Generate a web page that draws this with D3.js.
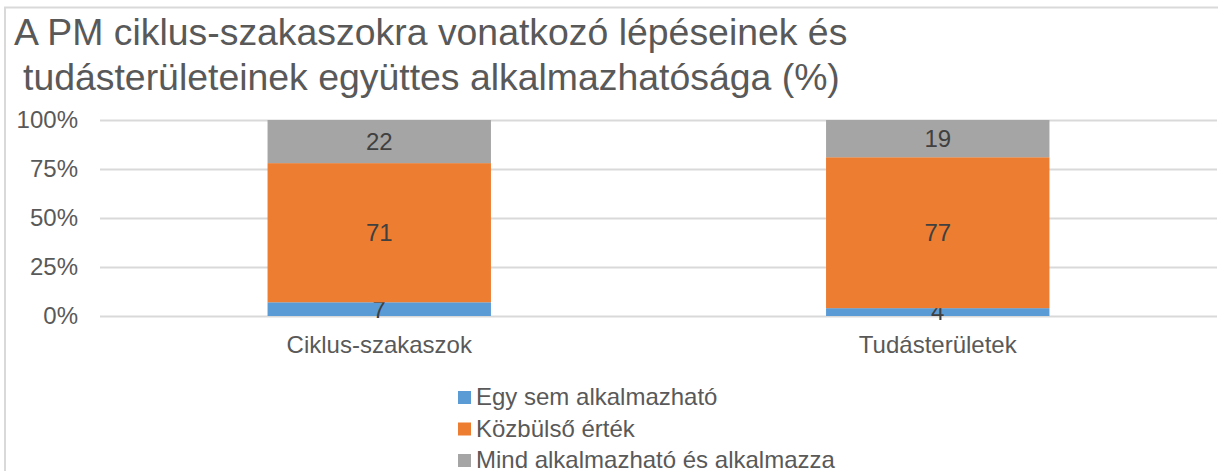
<!DOCTYPE html>
<html>
<head>
<meta charset="utf-8">
<script src="https://cdn.jsdelivr.net/npm/d3@7"></script>
<style>
  body { margin: 0; background: #fff; }
  svg { display: block; font-family: "Liberation Sans", Arial, sans-serif; }
</style>
</head>
<body>
<div id="chart"></div>
<script>
// ---- data ----
const categories = ["Ciklus-szakaszok", "Tudásterületek"];
const seriesNames = ["Egy sem alkalmazható", "Közbülső érték", "Mind alkalmazható és alkalmazza"];
const seriesColors = ["#5b9bd5", "#ed7d31", "#a5a5a5"];
const egySem = [7, 4];
const kozbulso = [71, 77];
const mind = [22, 19];
const yTicks = [0, 25, 50, 75, 100];
const titleLines = ["A PM ciklus-szakaszokra vonatkozó lépéseinek és", "tudásterületeinek együttes alkalmazhatósága (%)"];

// ---- layout ----
const width = 1218, height = 471;
const margins = {top: 120, right: 1, bottom: 155, left: 100};

const svg = d3.select("#chart").append("svg")
    .attr("width", width)
    .attr("height", height);

// chart area border (cropped on right/bottom)
svg.append("rect")
    .attr("x", 5).attr("y", 7.5)
    .attr("width", width + 10).attr("height", height + 10)
    .attr("fill", "none")
    .attr("stroke", "#d9d9d9")
    .attr("stroke-width", 2);

// title
svg.append("g").selectAll("text")
    .data(titleLines)
    .join("text")
    .attr("x", (d, i) => i === 0 ? 14 : 23)
    .attr("y", (d, i) => 45 + i * 45)
    .attr("font-size", 37.4)
    .attr("fill", "#595959")
    .text(d => d);

// scales
const x = d3.scaleBand()
    .domain(categories)
    .range([margins.left, width - margins.right])
    .paddingInner(0.6)
    .paddingOuter(0.3);

const y = d3.scaleLinear()
    .domain([0, 100])
    .range([height - margins.bottom, margins.top]);

// gridlines
const yAxis = svg.append("g")
    .attr("transform", `translate(${margins.left},0)`)
    .call(d3.axisLeft(y).tickValues(yTicks).tickSize(-(width - margins.right - margins.left)).tickFormat(d => d + "%"));
yAxis.select(".domain").remove();
yAxis.selectAll(".tick line").attr("stroke", "#d9d9d9").attr("stroke-width", 2);
yAxis.selectAll(".tick text")
    .attr("x", -22)
    .attr("font-size", 24)
    .attr("fill", "#595959");

// stacked data
const rows = categories.map((c, i) => ({cat: c, s0: egySem[i], s1: kozbulso[i], s2: mind[i]}));
const stack = d3.stack().keys(["s0", "s1", "s2"]);
const stacked = stack(rows);

const layers = svg.append("g").selectAll("g")
    .data(stacked)
    .join("g")
    .attr("fill", (d, i) => seriesColors[i]);

layers.selectAll("rect")
    .data(d => d)
    .join("rect")
    .attr("x", d => x(d.data.cat))
    .attr("width", x.bandwidth())
    .attr("y", d => y(d[1]))
    .attr("height", d => y(d[0]) - y(d[1]));

// data labels
layers.selectAll("text")
    .data(d => d.map(v => ({v, key: d.key})))
    .join("text")
    .attr("x", d => x(d.v.data.cat) + x.bandwidth() / 2)
    .attr("y", d => (y(d.v[0]) + y(d.v[1])) / 2)
    .attr("dy", "0.35em")
    .attr("text-anchor", "middle")
    .attr("font-size", 24)
    .attr("fill", "#404040")
    .text(d => d.v.data[d.key]);

// x axis labels
const xAxis = svg.append("g")
    .attr("transform", `translate(0,${height - margins.bottom})`)
    .call(d3.axisBottom(x).tickSize(0).tickPadding(0));
xAxis.select(".domain").remove();
xAxis.selectAll(".tick text")
    .attr("y", 37)
    .attr("dy", 0)
    .attr("font-size", 24)
    .attr("fill", "#595959");

// legend (last row is cropped by the image edge, as in the original)
const legend = svg.append("g").attr("transform", "translate(458,391)");
const items = legend.selectAll("g")
    .data(seriesNames)
    .join("g")
    .attr("transform", (d, i) => `translate(0,${i * 31.5})`);
items.append("rect")
    .attr("width", 13).attr("height", 13)
    .attr("fill", (d, i) => seriesColors[i]);
items.append("text")
    .attr("x", 18)
    .attr("y", 14)
    .attr("font-size", 24)
    .attr("fill", "#595959")
    .text(d => d);
</script>
</body>
</html>
